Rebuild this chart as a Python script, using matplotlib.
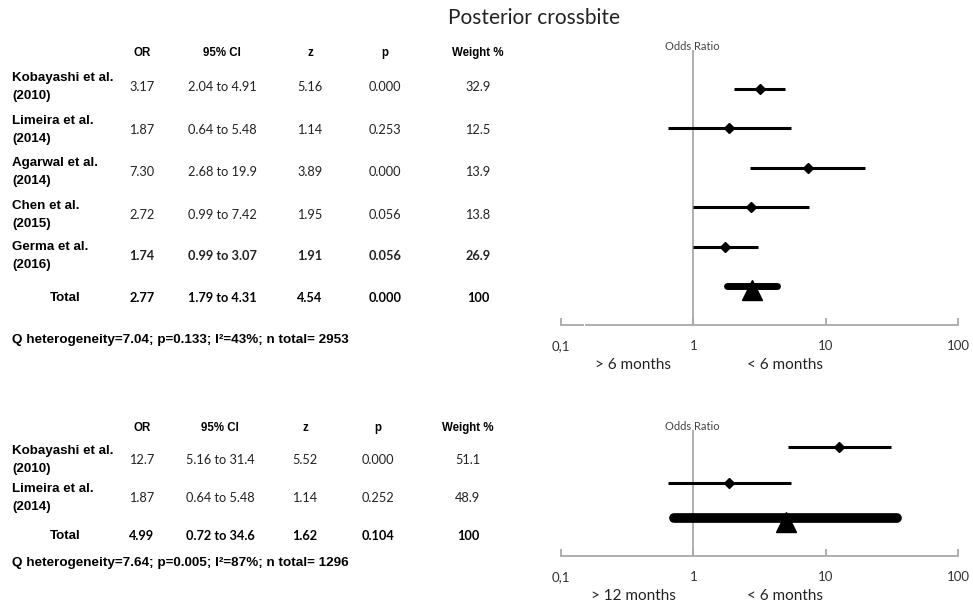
import numpy as np
import matplotlib.pyplot as plt

# ---- data: posterior crossbite, first comparison (> 6 vs < 6 months)
studies_a = ['Kobayashi et al.\n(2010)', 'Limeira et al.\n(2014)', 'Agarwal et al.\n(2014)',
             'Chen et al.\n(2015)', 'Germa et al.\n(2016)']
or_a = [3.17, 1.87, 7.30, 2.72, 1.74]
lo_a = [2.04, 0.64, 2.68, 0.99, 0.99]
hi_a = [4.91, 5.48, 19.9, 7.42, 3.07]
z_a = ['5.16', '1.14', '3.89', '1.95', '1.91']
p_a = ['0.000', '0.253', '0.000', '0.056', '0.056']
w_a = ['32.9', '12.5', '13.9', '13.8', '26.9']
bold_a = [False, False, False, False, True]
tot_a = (2.77, 1.79, 4.31, '4.54', '0.000', '100')
q_a = 'Q heterogeneity=7.04; p=0.133; I\u00b2=43%; n total= 2953'

# ---- second comparison (> 12 vs < 6 months)
studies_b = ['Kobayashi et al.\n(2010)', 'Limeira et al.\n(2014)']
or_b = [12.7, 1.87]
lo_b = [5.16, 0.64]
hi_b = [31.4, 5.48]
z_b = ['5.52', '1.14']
p_b = ['0.000', '0.252']
w_b = ['51.1', '48.9']
bold_b = [False, False]
tot_b = (4.99, 0.72, 34.6, '1.62', '0.104', '100')
q_b = 'Q heterogeneity=7.64; p=0.005; I\u00b2=87%; n total= 1296'

headers = ['OR', '95% CI', 'z', 'p', 'Weight %']
ticks = [0.1, 1, 10, 100]
tick_labels = ['0,1', '1', '10', '100']

W, H = 973, 604
fig = plt.figure(figsize=(W / 100, H / 100), dpi=100)

NUM = 'Lato'
NAME = 'Liberation Sans'


def txt(x, y, s, **kw):
    # x, y in pixels from top-left
    kw.setdefault('va', 'center')
    kw.setdefault('ha', 'center')
    fig.text(x / W, 1 - y / H, s, **kw)


def fmt(v):
    return '%.2f' % v if v < 10 else '%.1f' % v


def table(y_head, row_y, y_tot, y_q, cols, names, ors, los, his, zs, ps, ws, bolds, tot, q):
    for cx, h in zip(cols, headers):
        txt(cx, y_head, h, family=NAME, fontsize=8.3, weight='bold')
    for i, y in enumerate(row_y):
        wt = 'bold' if bolds[i] else 'normal'
        txt(12, y, names[i], ha='left', family=NAME, fontsize=9.6, weight='bold',
            linespacing=1.6)
        vals = [fmt(ors[i]), '%.2f to %s' % (los[i], fmt(his[i])), zs[i], ps[i], ws[i]]
        for cx, v in zip(cols, vals):
            txt(cx, y, v, family=NUM, fontsize=9.2, weight=wt, color='#222222')
    txt(65, y_tot, 'Total', family=NAME, fontsize=9.6, weight='bold')
    t_or, t_lo, t_hi, t_z, t_p, t_w = tot
    vals = [fmt(t_or), '%.2f to %s' % (t_lo, fmt(t_hi)), t_z, t_p, t_w]
    for cx, v in zip(cols, vals):
        txt(cx, y_tot, v, family=NUM, fontsize=9.2, weight='bold')
    txt(12, y_q, q, ha='left', family=NAME, fontsize=9.7, weight='bold')


def forest(top, bottom, row0, step, ors, los, his, tot, lw_tot, left_lab, right_lab, gap=False):
    x0, x1 = 561, 958
    ax = fig.add_axes([x0 / W, 1 - bottom / H, (x1 - x0) / W, (bottom - top) / H])
    ax.set_xscale('log')
    ax.set_xlim(0.1, 100)
    n = len(ors)
    ybot = (bottom - row0) / step
    ax.set_ylim(ybot, (top - row0) / step)
    for s in ['top', 'right', 'left']:
        ax.spines[s].set_visible(False)
    ax.spines['bottom'].set_color('#a8a8a8')
    ax.spines['bottom'].set_linewidth(1.3)
    ax.set_yticks([])
    ax.set_xticks(ticks)
    ax.set_xticklabels(tick_labels, family=NUM, fontsize=9.5, color='#333333')
    ax.xaxis.set_minor_locator(plt.NullLocator())
    ax.tick_params(axis='x', direction='in', length=5, color='#a8a8a8', width=1.3, pad=11)
    ax.patch.set_alpha(0)
    ax.axvline(1, color='#a8a8a8', lw=1.3, zorder=1)
    if gap:
        ax.plot([0.148, 0.151], [ybot, ybot], color='white', lw=3, solid_capstyle='butt',
                clip_on=False, zorder=5)
    y = np.arange(n)
    ax.hlines(y, los, his, color='black', lw=2.2, zorder=3)
    ax.plot(ors, y, 'D', color='black', ms=5.5, zorder=4)
    t_or, t_lo, t_hi = tot[0], tot[1], tot[2]
    ax.plot([t_lo, t_hi], [n, n], color='black', lw=lw_tot, solid_capstyle='round', zorder=3)
    ax.plot([t_or], [n + 0.1], '^', color='black', ms=15, zorder=4)
    txt(692, top - 3, 'Odds Ratio', family=NUM, fontsize=8, color='#444444')
    txt(633, bottom + 40, left_lab, family=NUM, fontsize=11, color='#222222')
    txt(785, bottom + 40, right_lab, family=NUM, fontsize=11, color='#222222')
    return ax


txt(534, 18, 'Posterior crossbite', family=NUM, fontsize=15, color='#222222')

table(53, [87, 130, 172, 215, 256], 298, 340, [142, 222, 310, 385, 478],
      studies_a, or_a, lo_a, hi_a, z_a, p_a, w_a, bold_a, tot_a, q_a)
forest(50, 325, 89, 39.4, or_a, lo_a, hi_a, tot_a, 5, '> 6 months', '< 6 months', gap=True)

table(428, [460, 498], 536, 563, [142, 220, 305, 378, 468],
      studies_b, or_b, lo_b, hi_b, z_b, p_b, w_b, bold_b, tot_b, q_b)
forest(430, 556, 447, 35.5, or_b, lo_b, hi_b, tot_b, 7, '> 12 months', '< 6 months')

fig.savefig('out.png', dpi=100)
